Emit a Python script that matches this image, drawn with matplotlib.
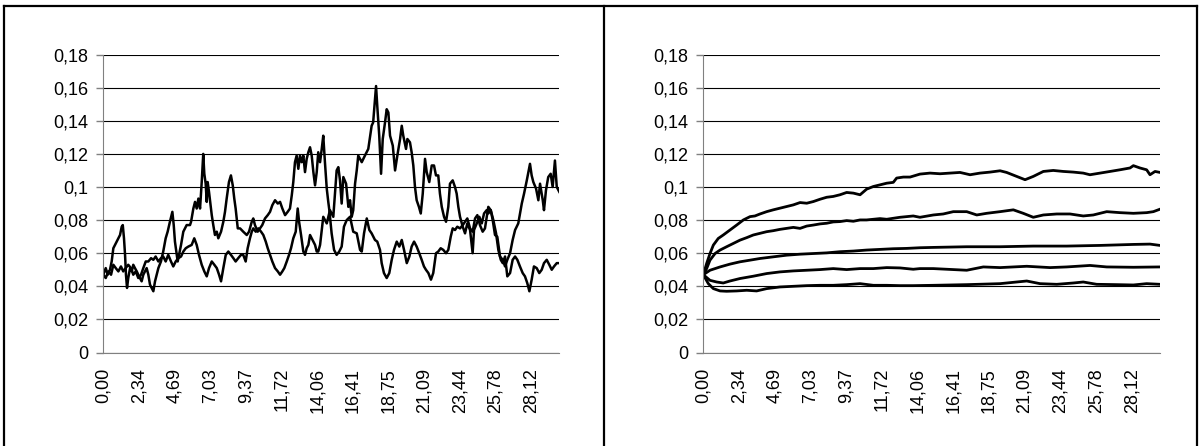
import matplotlib
matplotlib.use("Agg")
import matplotlib.pyplot as plt
from matplotlib.lines import Line2D

plt.rcParams['font.family'] = ['Liberation Sans', 'DejaVu Sans']

# category labels shown under both charts
x_labels = ['0,00', '2,34', '4,69', '7,03', '9,37', '11,72', '14,06',
            '16,41', '18,75', '21,09', '23,44', '25,78', '28,12']
x_max = 29.977

y_ticks = [0, 0.02, 0.04, 0.06, 0.08, 0.1, 0.12, 0.14, 0.16, 0.18]

# left chart: two single paths
path1_t = [0.00, 0.16, 0.29, 0.44, 0.55, 0.66, 0.88, 1.10, 1.21, 1.28, 1.36, 1.43, 1.49, 1.56, 1.64,
           1.76, 1.87, 1.97, 2.08, 2.20, 2.30, 2.41, 2.52, 2.63, 2.74, 2.85, 2.96, 3.07, 3.18, 3.29,
           3.40, 3.51, 3.62, 3.79, 3.94, 4.10, 4.23, 4.38, 4.54, 4.63, 4.71, 4.80, 4.89, 4.98, 5.11,
           5.26, 5.48, 5.70, 5.77, 5.92, 6.03, 6.14, 6.25, 6.36, 6.47, 6.57, 6.64, 6.73, 6.80, 6.86,
           6.95, 7.03, 7.13, 7.23, 7.34, 7.46, 7.56, 7.74, 7.89, 8.00, 8.11, 8.26, 8.39, 8.51, 8.61,
           8.70, 8.84, 8.99, 9.20, 9.43, 9.58, 9.76, 9.86, 9.97, 10.15, 10.30, 10.45, 10.63, 10.81,
           10.96, 11.11, 11.29, 11.47, 11.62, 11.77, 11.95, 12.12, 12.27, 12.39, 12.49, 12.60, 12.71,
           12.82, 12.93, 13.04, 13.15, 13.26, 13.37, 13.48, 13.59, 13.70, 13.81, 13.92, 14.03, 14.13,
           14.25, 14.36, 14.46, 14.57, 14.69, 14.79, 14.86, 15.01, 15.17, 15.34, 15.51, 15.67, 15.82,
           16.00, 16.22, 16.43, 16.66, 16.88, 16.99, 17.14, 17.32, 17.49, 17.64, 17.86, 18.01, 18.19,
           18.30, 18.45, 18.63, 18.80, 18.96, 19.11, 19.29, 19.46, 19.62, 19.77, 19.95, 20.12, 20.27,
           20.43, 20.60, 20.77, 20.93, 21.08, 21.21, 21.37, 21.54, 21.69, 21.87, 22.02, 22.18, 22.35,
           22.53, 22.68, 22.84, 22.97, 23.12, 23.27, 23.45, 23.63, 23.78, 23.93, 24.11, 24.28, 24.44,
           24.59, 24.76, 24.94, 25.09, 25.31, 25.47, 25.64, 25.82, 25.97, 26.13, 26.26, 26.41, 26.56,
           26.74, 26.91, 27.07, 27.22, 27.39, 27.57, 27.72, 27.87, 28.01, 28.16, 28.31, 28.49, 28.66,
           28.82, 28.97, 29.15, 29.32, 29.48, 29.63, 29.81, 29.98]
path1_y = [0.047, 0.051, 0.047, 0.050, 0.055, 0.063, 0.067, 0.071, 0.076, 0.077, 0.069, 0.059, 0.047, 0.039, 0.045,
           0.051, 0.049, 0.053, 0.051, 0.049, 0.047, 0.045, 0.043, 0.047, 0.049, 0.051, 0.047, 0.041, 0.039, 0.037,
           0.043, 0.047, 0.051, 0.055, 0.061, 0.069, 0.073, 0.079, 0.085, 0.077, 0.067, 0.061, 0.055, 0.059, 0.065,
           0.073, 0.077, 0.077, 0.079, 0.087, 0.091, 0.087, 0.093, 0.087, 0.103, 0.120, 0.108, 0.102, 0.091, 0.103,
           0.097, 0.091, 0.083, 0.077, 0.071, 0.073, 0.069, 0.073, 0.079, 0.085, 0.093, 0.103, 0.107, 0.101, 0.093,
           0.087, 0.075, 0.075, 0.073, 0.071, 0.073, 0.079, 0.081, 0.077, 0.073, 0.075, 0.077, 0.081, 0.083,
           0.085, 0.089, 0.092, 0.090, 0.091, 0.087, 0.083, 0.085, 0.087, 0.095, 0.103, 0.115, 0.119,
           0.111, 0.119, 0.115, 0.119, 0.109, 0.117, 0.121, 0.124, 0.119, 0.109, 0.101, 0.109, 0.121,
           0.115, 0.123, 0.131, 0.115, 0.099, 0.091, 0.086, 0.072, 0.062, 0.059, 0.061, 0.064, 0.076,
           0.080, 0.082, 0.073, 0.072, 0.062, 0.061, 0.072, 0.081, 0.074, 0.072, 0.068, 0.067, 0.062,
           0.054, 0.048, 0.045, 0.048, 0.056, 0.062, 0.067, 0.064, 0.068, 0.062, 0.054, 0.058, 0.064,
           0.067, 0.064, 0.060, 0.056, 0.052, 0.050, 0.048, 0.044, 0.048, 0.060, 0.061, 0.063, 0.062,
           0.060, 0.062, 0.070, 0.075, 0.074, 0.076, 0.075, 0.077, 0.079, 0.081, 0.075, 0.073, 0.081,
           0.083, 0.077, 0.073, 0.075, 0.088, 0.086, 0.080, 0.072, 0.062, 0.056, 0.054, 0.058, 0.046,
           0.048, 0.056, 0.058, 0.056, 0.052, 0.048, 0.046, 0.042, 0.037, 0.044, 0.052, 0.051, 0.048,
           0.050, 0.054, 0.056, 0.053, 0.050, 0.052, 0.054, 0.054]

path2_t = [0.00, 0.16, 0.33, 0.51, 0.66, 0.82, 0.99, 1.16, 1.31, 1.47, 1.64, 1.82, 1.97, 2.13, 2.30,
           2.48, 2.63, 2.79, 2.96, 3.14, 3.29, 3.44, 3.62, 3.79, 3.94, 4.10, 4.27, 4.45, 4.60, 4.76,
           4.93, 5.11, 5.26, 5.42, 5.59, 5.81, 5.98, 6.14, 6.29, 6.47, 6.64, 6.80, 6.95, 7.13, 7.30,
           7.46, 7.61, 7.74, 7.89, 8.05, 8.22, 8.39, 8.55, 8.70, 8.87, 9.05, 9.20, 9.36, 9.49, 9.64,
           9.76, 9.86, 10.02, 10.19, 10.37, 10.52, 10.68, 10.81, 10.96, 11.11, 11.29, 11.47, 11.62,
           11.77, 11.90, 12.06, 12.21, 12.34, 12.49, 12.65, 12.78, 12.87, 13.00, 13.15, 13.26, 13.37,
           13.48, 13.59, 13.70, 13.81, 13.92, 14.03, 14.13, 14.25, 14.46, 14.69, 14.90, 15.12, 15.34,
           15.45, 15.56, 15.67, 15.78, 15.96, 16.11, 16.22, 16.33, 16.43, 16.55, 16.66, 16.76, 16.99,
           17.20, 17.42, 17.64, 17.74, 17.86, 17.93, 18.01, 18.14, 18.26, 18.37, 18.52, 18.63, 18.74,
           18.85, 19.03, 19.18, 19.33, 19.51, 19.62, 19.72, 19.90, 19.99, 20.16, 20.27, 20.38, 20.49,
           20.60, 20.75, 20.87, 21.00, 21.15, 21.26, 21.43, 21.59, 21.74, 21.87, 22.02, 22.13, 22.25,
           22.40, 22.53, 22.68, 22.79, 22.97, 23.12, 23.23, 23.34, 23.45, 23.63, 23.78, 23.93, 24.11,
           24.28, 24.37, 24.55, 24.72, 24.88, 25.03, 25.20, 25.31, 25.47, 25.60, 25.75, 25.90, 26.08,
           26.26, 26.41, 26.56, 26.74, 26.91, 27.07, 27.28, 27.51, 27.66, 27.84, 28.05, 28.16, 28.27,
           28.45, 28.60, 28.71, 28.89, 28.97, 29.10, 29.25, 29.41, 29.54, 29.69, 29.81, 29.98]
path2_y = [0.047, 0.045, 0.049, 0.047, 0.053, 0.051, 0.049, 0.052, 0.049, 0.051, 0.053, 0.051, 0.047, 0.049, 0.045,
           0.047, 0.051, 0.055, 0.055, 0.057, 0.056, 0.058, 0.055, 0.057, 0.058, 0.055, 0.059, 0.055, 0.052, 0.055,
           0.057, 0.058, 0.061, 0.063, 0.064, 0.065, 0.069, 0.065, 0.059, 0.053, 0.049, 0.046, 0.051, 0.055, 0.053,
           0.051, 0.047, 0.043, 0.051, 0.059, 0.061, 0.059, 0.057, 0.055, 0.057, 0.059, 0.059, 0.055, 0.063, 0.069,
           0.073, 0.075, 0.073, 0.075, 0.073, 0.071, 0.067, 0.063, 0.059, 0.055, 0.051, 0.049, 0.047,
           0.049, 0.051, 0.055, 0.059, 0.063, 0.069, 0.073, 0.087, 0.079, 0.071, 0.061, 0.059, 0.063,
           0.065, 0.071, 0.069, 0.067, 0.065, 0.061, 0.061, 0.065, 0.082, 0.078, 0.086, 0.082, 0.110,
           0.112, 0.104, 0.090, 0.106, 0.102, 0.088, 0.092, 0.082, 0.086, 0.102, 0.110, 0.119, 0.115,
           0.119, 0.123, 0.137, 0.139, 0.153, 0.161, 0.149, 0.131, 0.108, 0.129, 0.139, 0.147, 0.145,
           0.131, 0.125, 0.110, 0.119, 0.129, 0.137, 0.131, 0.123, 0.129, 0.127, 0.121, 0.113, 0.100,
           0.092, 0.088, 0.084, 0.096, 0.117, 0.109, 0.103, 0.113, 0.113, 0.107, 0.107, 0.096, 0.088,
           0.082, 0.079, 0.088, 0.102, 0.104, 0.100, 0.096, 0.088, 0.082, 0.076, 0.072, 0.078, 0.074,
           0.060, 0.074, 0.078, 0.082, 0.078, 0.084, 0.086, 0.084, 0.086, 0.080, 0.071, 0.070, 0.058,
           0.056, 0.052, 0.056, 0.060, 0.068, 0.074, 0.078, 0.090, 0.096, 0.104, 0.114, 0.107, 0.103,
           0.099, 0.092, 0.102, 0.092, 0.086, 0.098, 0.106, 0.108, 0.100, 0.116, 0.100, 0.097]

# right chart: five averaged curves, top to bottom
c1_t = [0, 0.22, 0.44, 0.66, 0.98, 1.31, 1.75, 2.19, 2.63, 3.07, 3.39, 3.72, 4.16, 4.59, 5.03, 5.47, 5.91,
        6.35, 6.79, 7.22, 7.66, 8.10, 8.53, 8.97, 9.41, 9.85, 10.29, 10.72, 11.16, 11.60, 12.04, 12.47,
        12.69, 13.13, 13.57, 14.22, 14.88, 15.54, 16.19, 16.85, 17.51, 18.16, 18.82, 19.48, 19.91, 20.57,
        21.12, 21.66, 22.32, 22.97, 23.63, 24.29, 24.94, 25.38, 26.04, 26.70, 27.35, 28.01, 28.23, 28.66,
        29.10, 29.32, 29.65, 29.98]
c1_y = [0.047, 0.0538, 0.0598, 0.0649, 0.0689, 0.0710, 0.0740, 0.0770, 0.0801, 0.0821, 0.0825, 0.0837,
        0.0851, 0.0862, 0.0872, 0.0882, 0.0892, 0.0906, 0.0902, 0.0912, 0.0926, 0.0938, 0.0943, 0.0953,
        0.0967, 0.0963, 0.0953, 0.0987, 0.1003, 0.1013, 0.1023, 0.1028, 0.1054, 0.1060, 0.1060, 0.1078,
        0.1084, 0.1080, 0.1084, 0.1088, 0.1074, 0.1084, 0.1090, 0.1098, 0.1088, 0.1064, 0.1044, 0.1064,
        0.1094, 0.1100, 0.1094, 0.1090, 0.1084, 0.1074, 0.1084, 0.1094, 0.1104, 0.1115, 0.1129, 0.1115,
        0.1104, 0.1074, 0.1094, 0.1088]

c2_t = [0, 0.22, 0.44, 0.77, 1.10, 1.53, 1.97, 2.41, 2.85, 3.28, 3.72, 4.16, 4.59, 5.03, 5.47, 5.91, 6.35,
        6.79, 7.22, 7.66, 8.10, 8.53, 8.97, 9.41, 9.85, 10.29, 10.72, 11.16, 11.60, 12.04, 12.47, 12.91,
        13.35, 13.78, 14.22, 15.10, 15.75, 16.41, 17.29, 17.95, 18.60, 19.48, 20.35, 21.00, 21.66, 22.32,
        23.20, 24.07, 24.94, 25.60, 26.48, 27.35, 28.23, 29.10, 29.54, 29.98]
c2_y = [0.047, 0.0507, 0.0558, 0.0598, 0.0619, 0.0639, 0.0659, 0.0679, 0.0694, 0.0710, 0.0720, 0.0730,
        0.0736, 0.0744, 0.0750, 0.0756, 0.0750, 0.0764, 0.0770, 0.0777, 0.0781, 0.0789, 0.0791, 0.0797,
        0.0793, 0.0801, 0.0801, 0.0805, 0.0809, 0.0805, 0.0811, 0.0817, 0.0821, 0.0825, 0.0817, 0.0831,
        0.0837, 0.0851, 0.0851, 0.0831, 0.0841, 0.0851, 0.0862, 0.0841, 0.0817, 0.0831, 0.0837, 0.0837,
        0.0825, 0.0831, 0.0851, 0.0845, 0.0841, 0.0845, 0.0851, 0.0866]

c3_t = [0, 0.44, 1.10, 1.75, 2.41, 3.07, 3.72, 4.59, 5.47, 6.35, 7.22, 8.10, 8.97, 9.85, 10.72, 11.60,
        12.47, 13.35, 14.22, 15.10, 17.29, 19.48, 21.66, 23.85, 26.04, 28.23, 29.32, 29.98]
c3_y = [0.047, 0.0497, 0.0517, 0.0534, 0.0548, 0.0558, 0.0568, 0.0578, 0.0588, 0.0594, 0.0598, 0.0602,
        0.0609, 0.0613, 0.0619, 0.0623, 0.0627, 0.0629, 0.0633, 0.0635, 0.0639, 0.0639, 0.0643, 0.0643,
        0.0647, 0.0653, 0.0655, 0.0647]

c4_t = [0, 0.44, 0.88, 1.31, 1.75, 2.41, 3.28, 4.16, 5.03, 5.91, 6.79, 7.66, 8.53, 9.41, 10.29, 11.16,
        12.04, 12.91, 13.78, 14.22, 15.10, 17.29, 18.38, 19.48, 21.23, 22.76, 23.85, 25.38, 26.48, 28.23,
        29.98]
c4_y = [0.047, 0.0436, 0.0426, 0.0420, 0.0432, 0.0447, 0.0461, 0.0477, 0.0487, 0.0493, 0.0497, 0.0501,
        0.0507, 0.0501, 0.0507, 0.0507, 0.0513, 0.0511, 0.0503, 0.0507, 0.0507, 0.0497, 0.0517, 0.0513,
        0.0521, 0.0513, 0.0517, 0.0526, 0.0517, 0.0515, 0.0517]

c5_t = [0, 0.33, 0.66, 1.10, 1.53, 2.19, 2.85, 3.50, 4.16, 5.03, 5.91, 6.79, 7.66, 8.53, 9.41, 10.29,
        11.16, 12.04, 12.91, 13.78, 15.10, 17.29, 19.48, 20.57, 21.23, 22.10, 23.20, 24.29, 24.94, 25.82,
        27.14, 28.23, 29.10, 29.98]
c5_y = [0.047, 0.0416, 0.0386, 0.0372, 0.0370, 0.0372, 0.0376, 0.0372, 0.0386, 0.0396, 0.0400, 0.0404,
        0.0406, 0.0406, 0.0410, 0.0416, 0.0406, 0.0406, 0.0404, 0.0404, 0.0406, 0.0410, 0.0416, 0.0426,
        0.0432, 0.0416, 0.0412, 0.0420, 0.0426, 0.0412, 0.0410, 0.0408, 0.0416, 0.0412]

W, H = 1201, 446
fig = plt.figure(figsize=(W / 100, H / 100), dpi=100)


def px(x, y):
    return x / W, 1 - y / H


# panel frames
for xs, ys in [([4, 4], [6, 446]), ([604, 604], [6, 446]), ([1197, 1197], [6, 446]), ([4, 1197], [6, 6])]:
    fx = [px(x, 0)[0] for x in xs]
    fy = [px(0, y)[1] for y in ys]
    fig.add_artist(Line2D(fx, fy, color='black', lw=1.6, transform=fig.transFigure))

bottom = 1 - 352.5 / H
height = (352.5 - 54.6) / H
ax1 = fig.add_axes([103.3 / W, bottom, (559.3 - 103.3) / W, height])
ax2 = fig.add_axes([703.3 / W, bottom, (1160 - 703.3) / W, height])


def style(ax):
    ax.set_xlim(0, x_max)
    ax.set_ylim(0, 0.18)
    ax.set_yticks(y_ticks)
    ax.set_yticklabels([('%g' % v).replace('.', ',') for v in y_ticks], fontsize=13)
    ax.set_xticks([float(s.replace(',', '.')) for s in x_labels])
    ax.set_xticklabels(x_labels, rotation=90, fontsize=13)
    ax.tick_params(axis='x', length=0, pad=11)
    ax.tick_params(axis='y', length=5, width=1, color='#808080', pad=6)
    for s in ['top', 'right']:
        ax.spines[s].set_visible(False)
    ax.spines['left'].set_color('#808080')
    ax.spines['bottom'].set_color('#808080')
    ax.grid(axis='y', color='black', lw=0.8)
    ax.set_axisbelow(True)


style(ax1)
ax1.plot(path1_t, path1_y, color='black', lw=1.8)
ax1.plot(path2_t, path2_y, color='black', lw=1.8)

style(ax2)
for t, y in [(c1_t, c1_y), (c2_t, c2_y), (c3_t, c3_y), (c4_t, c4_y), (c5_t, c5_y)]:
    ax2.plot(t, y, color='black', lw=2.0)

fig.savefig('out.png', dpi=100)
